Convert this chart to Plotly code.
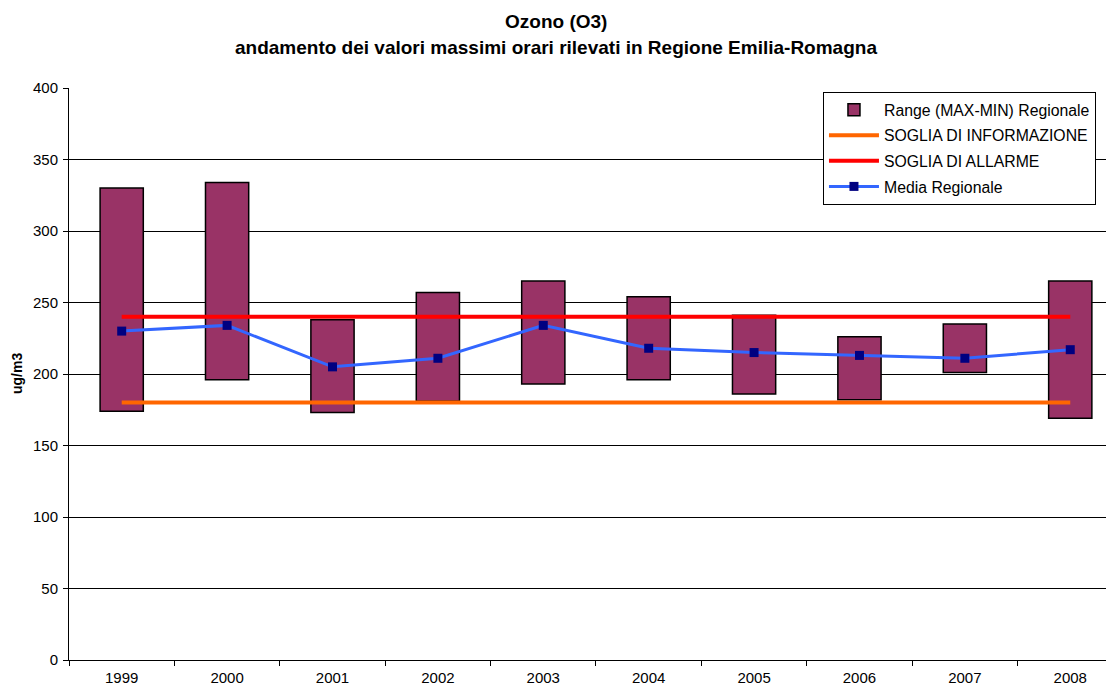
import plotly.graph_objects as go

years = ["1999", "2000", "2001", "2002", "2003", "2004", "2005", "2006", "2007", "2008"]
range_max = [330, 334, 238, 257, 265, 254, 241, 226, 235, 265]
range_min = [174, 196, 173, 181, 193, 196, 186, 182, 201, 169]
media = [230, 234, 205, 211, 234, 218, 215, 213, 211, 217]
soglia_info = [180] * len(years)
soglia_allarme = [240] * len(years)

FONT = "Liberation Sans, Arial, sans-serif"

fig = go.Figure()
fig.add_trace(go.Bar(
    x=years, y=[mx - mn for mx, mn in zip(range_max, range_min)], base=range_min,
    name="Range (MAX-MIN) Regionale", legendgroup="g1",
    marker=dict(color="#993366", line=dict(color="#000000", width=1.5)),
    width=0.41,
))
fig.add_trace(go.Scatter(x=years, y=soglia_info, mode="lines", name="SOGLIA DI INFORMAZIONE",
                         legendgroup="g2", line=dict(color="#FF6600", width=4)))
fig.add_trace(go.Scatter(x=years, y=soglia_allarme, mode="lines", name="SOGLIA DI ALLARME",
                         legendgroup="g3", line=dict(color="#FF0000", width=4)))
fig.add_trace(go.Scatter(x=years, y=media, mode="lines+markers", name="Media Regionale",
                         legendgroup="g4", line=dict(color="#3366FF", width=3),
                         marker=dict(symbol="square", size=9, color="#000080")))

fig.update_layout(
    width=1114, height=688,
    margin=dict(l=61, r=8, t=80, b=36),
    paper_bgcolor="white", plot_bgcolor="white",
    font=dict(family=FONT, size=14, color="#000000"),
    showlegend=True,
    legend=dict(x=0.7215, y=0.993, xanchor="left", yanchor="top",
                bordercolor="#000000", borderwidth=1, bgcolor="white",
                font=dict(size=15.8, family=FONT), tracegroupgap=2, itemwidth=50),
    annotations=[
        dict(text="<b>Ozono (O3)</b>", xref="paper", yref="paper", x=0.466, y=1, yshift=67,
             xanchor="center", yanchor="middle", showarrow=False, font=dict(size=19, family=FONT)),
        dict(text="<b>andamento dei valori massimi orari rilevati in Regione Emilia-Romagna</b>",
             xref="paper", yref="paper", x=0.466, y=1, yshift=41,
             xanchor="center", yanchor="middle", showarrow=False, font=dict(size=19, family=FONT)),
        dict(text="<b>ug/m3</b>", xref="paper", yref="paper", x=0, xshift=-52, y=0.5,
             xanchor="center", yanchor="middle", textangle=-90, showarrow=False,
             font=dict(size=14, family=FONT)),
    ],
)
fig.update_xaxes(type="category", range=[-0.5, 9.415], tickson="boundaries",
                 ticks="outside", ticklen=5, tickcolor="#000000", showline=True,
                 linecolor="#000000", linewidth=1, showgrid=False, ticklabelstandoff=4,
                 tickfont=dict(size=15, family=FONT))
fig.update_yaxes(range=[0, 400], dtick=50, ticks="outside", ticklen=5, tickcolor="#000000",
                 showline=True, linecolor="#000000", linewidth=1, ticklabelstandoff=2,
                 showgrid=True, gridcolor="#000000", gridwidth=1, zeroline=False,
                 tickfont=dict(size=15, family=FONT))

fig.write_html("out.html")
